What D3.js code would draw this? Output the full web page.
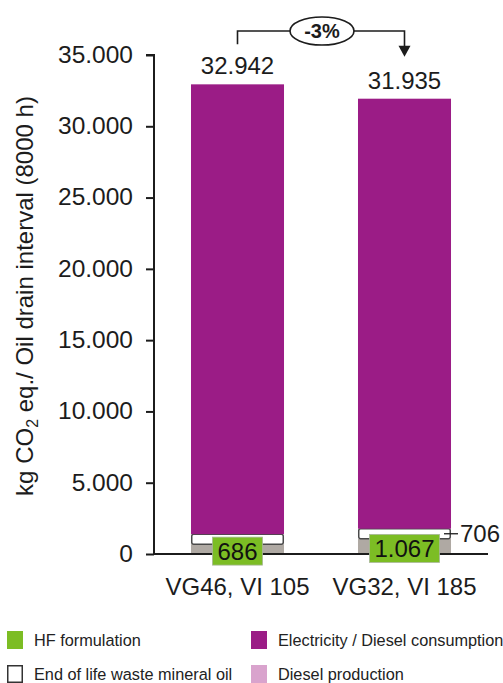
<!DOCTYPE html>
<html>
<head>
<meta charset="utf-8">
<script src="https://cdn.jsdelivr.net/npm/d3@7"></script>
<style>
  html, body { margin: 0; padding: 0; background: #ffffff; }
  svg { display: block; font-family: "Liberation Sans", Arial, sans-serif; }
</style>
</head>
<body>
<svg id="chart" width="503" height="683"></svg>
<script>
// Oil variants compared over one oil drain interval
const categories = ["VG46, VI 105", "VG32, VI 185"];

// Stack components, bottom to top (kg CO2 eq.)
const hfFormulation = [686, 1067];
const endOfLife = [706, 706];
const dieselProduction = [0, 0];
const electricityDiesel = [31550, 30162];
const totals = [32942, 31935];

const yTicks = [0, 5000, 10000, 15000, 20000, 25000, 30000, 35000];
const changeLabel = "-3%";

const legendItems = [
  { name: "HF formulation", key: "hf" },
  { name: "End of life waste mineral oil", key: "eol" },
  { name: "Electricity / Diesel consumption", key: "elec" },
  { name: "Diesel production", key: "dprod" }
];

const colors = {
  hf: "#7cbd24",
  hfBar: "#afa9a3",
  eol: "#ffffff",
  elec: "#9b1c86",
  dprod: "#d9a3cd"
};

const locale = d3.formatLocale({ decimal: ",", thousands: ".", grouping: [3], currency: ["", "€"] });
const fmt = locale.format(",d");

const svg = d3.select("#chart");
const ink = "#1c1c1c";

const x = d3.scaleBand()
  .domain(categories)
  .range([154, 488])
  .paddingInner(0.443)
  .paddingOuter(0.2215);

const y = d3.scaleLinear()
  .domain([0, 35000])
  .range([554, 55]);

// Stacked data
const rows = categories.map((c, i) => ({
  cat: c,
  hf: hfFormulation[i],
  eol: endOfLife[i],
  dprod: dieselProduction[i],
  elec: electricityDiesel[i]
}));
const stack = d3.stack().keys(["hf", "eol", "dprod", "elec"]);
const series = stack(rows);

const bw = x.bandwidth();
const g = svg.append("g");

series.forEach(s => {
  const key = s.key;
  g.selectAll("rect." + key)
    .data(s)
    .join("rect")
    .attr("class", key)
    .attr("x", d => x(d.data.cat) + (key === "eol" ? 0.75 : 0))
    .attr("width", key === "eol" ? bw - 1.5 : bw)
    .attr("y", d => y(d[1]))
    .attr("height", d => Math.max(0, y(d[0]) - y(d[1])))
    .attr("rx", key === "eol" ? 2 : 0)
    .attr("fill", key === "hf" ? colors.hfBar : colors[key])
    .attr("stroke", key === "eol" ? "#4a4a4a" : "none")
    .attr("stroke-width", key === "eol" ? 1.5 : 0);
});

// Y axis
const yAxis = d3.axisLeft(y)
  .tickValues(yTicks)
  .tickSize(8)
  .tickPadding(13)
  .tickFormat(d => fmt(d));

const ya = svg.append("g")
  .attr("transform", "translate(154,0)")
  .call(yAxis);
ya.select(".domain").attr("stroke", ink).attr("stroke-width", 2).attr("d", "M-8,55H0V554");
ya.selectAll(".tick line").attr("stroke", ink).attr("stroke-width", 2);
ya.selectAll(".tick text")
  .attr("fill", ink)
  .attr("font-size", 24.5)
  .attr("font-family", "Liberation Sans, Arial, sans-serif")
  .attr("dy", "0.3em");

// X axis baseline and category labels
const xa = svg.append("g")
  .attr("transform", "translate(0,554)")
  .call(d3.axisBottom(x).tickSize(0).tickPadding(24));
xa.select(".domain").attr("stroke", ink).attr("stroke-width", 2).attr("d", "M154,0H488");
xa.selectAll(".tick text")
  .attr("fill", ink)
  .attr("font-size", 24)
  .attr("font-family", "Liberation Sans, Arial, sans-serif");

// Y axis title
const title = svg.append("text")
  .attr("transform", "translate(33,296) rotate(-90)")
  .attr("text-anchor", "middle")
  .attr("font-size", 24)
  .attr("fill", ink);
title.append("tspan").text("kg CO");
title.append("tspan").text("2").attr("font-size", 16).attr("dy", 5);
title.append("tspan").text(" eq./ Oil drain interval (8000 h)").attr("dy", -5);

// Total labels above bars
svg.selectAll("text.total")
  .data(categories)
  .join("text")
  .attr("class", "total")
  .attr("x", d => x(d) + bw / 2)
  .attr("y", (d, i) => y(totals[i]) - 10)
  .attr("text-anchor", "middle")
  .attr("font-size", 24)
  .attr("fill", ink)
  .text((d, i) => fmt(totals[i]));

// HF formulation labels on green boxes
const hfLabels = svg.selectAll("g.hflab")
  .data(categories)
  .join("g")
  .attr("class", "hflab")
  .attr("transform", (d, i) => `translate(${x(d) + bw / 2},${(y(0) + y(hfFormulation[i])) / 2 + 2})`);
hfLabels.each(function(d, i) {
  const gg = d3.select(this);
  const t = gg.append("text")
    .attr("text-anchor", "middle")
    .attr("dy", "0.36em")
    .attr("font-size", 24)
    .attr("fill", "#111")
    .text(fmt(hfFormulation[i]));
  const w = t.node().getComputedTextLength() + 10;
  gg.insert("rect", "text")
    .attr("x", -w / 2)
    .attr("y", -14)
    .attr("width", w)
    .attr("height", 28)
    .attr("fill", colors.hf)
    .attr("stroke", "#a9b79a")
    .attr("stroke-width", 0.8);
});

// End of life label with leader line on the second bar
const eolY = (y(hfFormulation[1]) + y(hfFormulation[1] + endOfLife[1])) / 2;
const bar2Right = x(categories[1]) + bw;
svg.append("line")
  .attr("x1", bar2Right - 7).attr("x2", bar2Right + 7)
  .attr("y1", eolY).attr("y2", eolY)
  .attr("stroke", ink).attr("stroke-width", 1.3);
svg.append("text")
  .attr("x", bar2Right + 9)
  .attr("y", eolY)
  .attr("dy", "0.36em")
  .attr("font-size", 24)
  .attr("fill", ink)
  .text(fmt(endOfLife[1]));

// Change bracket between the two totals
const cx1 = x(categories[0]) + bw / 2;
const cx2 = x(categories[1]) + bw / 2;
const by = 31;
const ex = 322, erx = 32, ery = 14;
const bracket = svg.append("g").attr("stroke", ink).attr("stroke-width", 1.6).attr("fill", "none");
bracket.append("path").attr("d", `M${cx1},${y(totals[0]) - 40}V${by}H${ex - erx}`);
bracket.append("path").attr("d", `M${ex + erx},${by}H${cx2}V${y(totals[1]) - 52}`);
svg.append("path")
  .attr("d", `M${cx2 - 6},${y(totals[1]) - 53}L${cx2 + 6},${y(totals[1]) - 53}L${cx2},${y(totals[1]) - 42}Z`)
  .attr("fill", ink);
svg.append("ellipse")
  .attr("cx", ex).attr("cy", by).attr("rx", erx).attr("ry", ery)
  .attr("fill", "#fff").attr("stroke", ink).attr("stroke-width", 1.6);
svg.append("text")
  .attr("x", ex).attr("y", by)
  .attr("dy", "0.36em")
  .attr("text-anchor", "middle")
  .attr("font-size", 20)
  .attr("font-weight", "bold")
  .attr("fill", ink)
  .text(changeLabel);

// Legend
const legendPos = [
  { x: 7, y: 631 },
  { x: 7, y: 665 },
  { x: 251, y: 631 },
  { x: 251, y: 665 }
];
const lg = svg.selectAll("g.legend")
  .data(legendItems)
  .join("g")
  .attr("class", "legend")
  .attr("transform", (d, i) => `translate(${legendPos[i].x},${legendPos[i].y})`);
lg.append("rect")
  .attr("x", (d) => d.key === "eol" ? 0.75 : 0)
  .attr("y", (d) => d.key === "eol" ? 0.75 : 0)
  .attr("width", d => d.key === "eol" ? 14.5 : 16)
  .attr("height", d => d.key === "eol" ? 16.5 : 18)
  .attr("fill", d => colors[d.key])
  .attr("stroke", d => d.key === "eol" ? "#333" : "none")
  .attr("stroke-width", 1.5);
lg.append("text")
  .attr("x", 27)
  .attr("y", 9)
  .attr("dy", "0.36em")
  .attr("font-size", 16.3)
  .attr("fill", "#222")
  .text(d => d.name);
</script>
</body>
</html>
